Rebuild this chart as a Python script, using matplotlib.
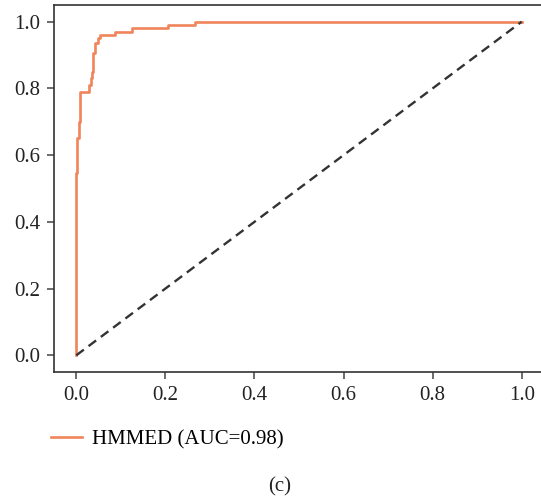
import matplotlib
matplotlib.use("Agg")
import matplotlib.pyplot as plt

plt.rcParams.update({
    "font.family": ["Liberation Serif", "DejaVu Serif"],
    "font.size": 15,
})

# ROC curve points (false positive rate, true positive rate)
fpr = [0.0, 0.0, 0.002, 0.002, 0.005, 0.005, 0.008, 0.008, 0.029, 0.029,
       0.033, 0.033, 0.035, 0.035, 0.038, 0.038, 0.042, 0.042, 0.048, 0.048,
       0.053, 0.053, 0.088, 0.088, 0.124, 0.124, 0.206, 0.206, 0.267, 0.267, 1.0]
tpr = [0.0, 0.545, 0.545, 0.65, 0.65, 0.70, 0.70, 0.79, 0.79, 0.81,
       0.81, 0.83, 0.83, 0.85, 0.85, 0.905, 0.905, 0.935, 0.935, 0.95,
       0.95, 0.96, 0.96, 0.97, 0.97, 0.98, 0.98, 0.99, 0.99, 1.0, 1.0]
chance = [0.0, 1.0]
label = "HMMED (AUC=0.98)"

W, H = 541, 498
fig = plt.figure(figsize=(W / 100, H / 100), dpi=100)
ax = fig.add_axes([54 / W, (H - 372) / H, 490 / W, 367 / H])

ax.plot(fpr, tpr, color="#f0845a", lw=1.9, label=label)
ax.plot(chance, chance, color="#333333", lw=1.7, ls=(0, (4, 2.5)))

ax.set_xlim(-0.05, 1.05)
ax.set_ylim(-0.05, 1.05)
ax.set_xticks([0, 0.2, 0.4, 0.6, 0.8, 1.0])
ax.set_yticks([0, 0.2, 0.4, 0.6, 0.8, 1.0])
ax.tick_params(length=5, width=1.1, color="#444444", labelsize=15, pad=5,
               labelcolor="#222222")
for s in ["top", "left", "bottom"]:
    ax.spines[s].set_color("#333333")
    ax.spines[s].set_linewidth(1.2)
ax.spines["right"].set_visible(False)

ax.legend(loc="center left", bbox_to_anchor=(-0.045, -0.185), frameon=False,
          fontsize=15, handlelength=1.5, handletextpad=0.5)
fig.text(280 / W, 1 - 487 / H, "(c)", ha="center", va="center", fontsize=15,
         color="#222222")

fig.savefig("out.png", dpi=100)
